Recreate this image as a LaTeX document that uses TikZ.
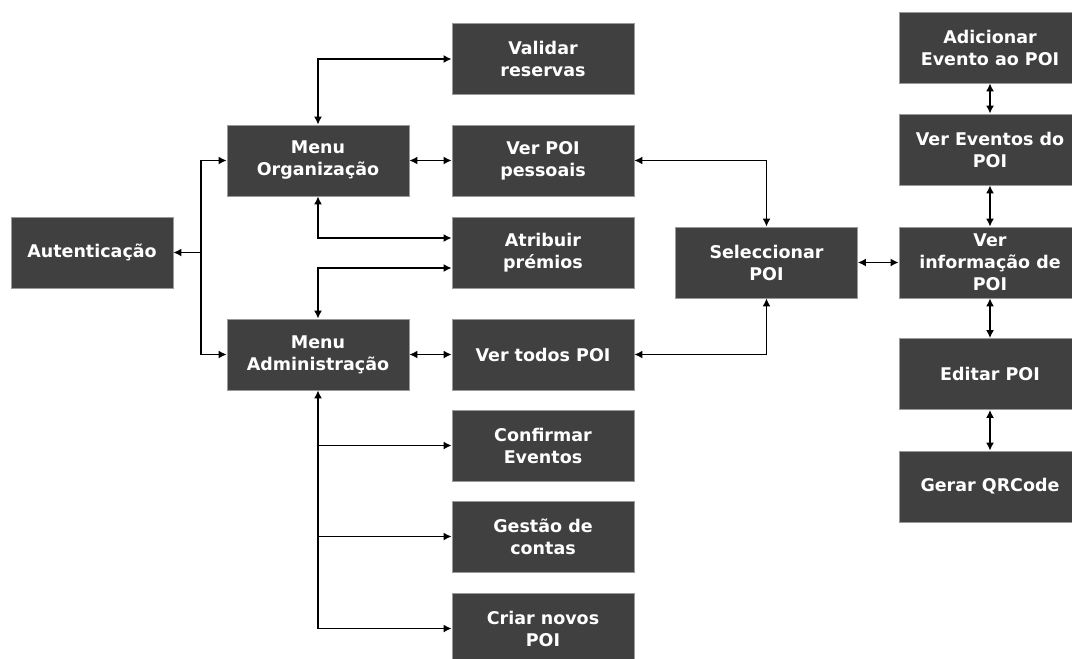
\documentclass[tikz,border=0pt]{standalone}
\usepackage{fontspec}
\setmainfont{DejaVu Sans}
\usetikzlibrary{arrows.meta}
\definecolor{boxfill}{HTML}{404040}
\definecolor{boxline}{HTML}{9A9A9A}
\tikzset{
  box/.style={draw=boxline, line width=0.8pt, fill=boxfill, text=white,
    minimum width=182pt, minimum height=71pt, inner sep=0pt, align=center,
    font=\fontsize{17.5}{22}\selectfont\bfseries},
  conn/.style={line width=1.5pt, black, arrows={-}},
  >={Latex[length=8pt,width=8pt]}
}
\begin{document}
\begin{tikzpicture}[x=1pt,y=-1pt]
\useasboundingbox (0,0) rectangle (1072,659);
\clip (0,0) rectangle (1072,659);
\fill[white] (0,0) rectangle (1072,659);
% nodes
\node[box, minimum width=162pt] (aut) at (92,252.5) {Autenticação};
\node[box] (org) at (318,160.5) {Menu\\Organização};
\node[box] (adm) at (318,354.5) {Menu\\Administração};
\node[box] (val) at (543,59) {Validar\\reservas};
\node[box] (vpp) at (543,160.5) {Ver POI\\pessoais};
\node[box] (atr) at (543,252.5) {Atribuir\\prémios};
\node[box] (vtp) at (543,354.5) {Ver todos POI};
\node[box] (conf) at (543,445.5) {Confirmar\\Eventos};
\node[box] (gest) at (543,536.5) {Gestão de\\contas};
\node[box] (criar) at (543,628.5) {Criar novos\\POI};
\node[box] (sel) at (766.5,262.5) {Seleccionar\\POI};
\node[box] (adic) at (990,47.5) {Adicionar\\Evento ao POI};
\node[box] (verev) at (990,149.5) {Ver Eventos do\\POI};
\node[box] (info) at (990,262.5) {Ver\\informação de\\POI};
\node[box] (edit) at (990,374) {Editar POI};
\node[box] (gerar) at (990,486.5) {Gerar QRCode};
% connectors
\coordinate (j1) at (201,252.5);
\draw[conn,->] (j1) -- (aut.east);
\draw[conn,->] (j1) |- (org.west);
\draw[conn,->] (j1) |- (adm.west);
\draw[conn,<->] (org.north) |- (val.west);
\draw[conn,<->] (org.east) -- (vpp.west);
\draw[conn,<->] (org.south) |- ([yshift=14.5pt]atr.west);
\draw[conn,<->] (adm.north) |- ([yshift=-15.5pt]atr.west);
\draw[conn,<->] (adm.east) -- (vtp.west);
\draw[conn,<->] (vpp.east) -| (sel.north);
\draw[conn,<->] (vtp.east) -| (sel.south);
\draw[conn,<->] (sel.east) -- (info.west);
\draw[conn,<->] (adic.south) -- (verev.north);
\draw[conn,<->] (verev.south) -- (info.north);
\draw[conn,<->] (info.south) -- (edit.north);
\draw[conn,<->] (edit.south) -- (gerar.north);
\coordinate (j2) at (adm.south |- criar.west);
\draw[conn,->] (j2) -- (adm.south);
\draw[conn,->] (adm.south |- conf.west) -- (conf.west);
\draw[conn,->] (adm.south |- gest.west) -- (gest.west);
\draw[conn,->] (j2) -- (criar.west);
\end{tikzpicture}
\end{document}
